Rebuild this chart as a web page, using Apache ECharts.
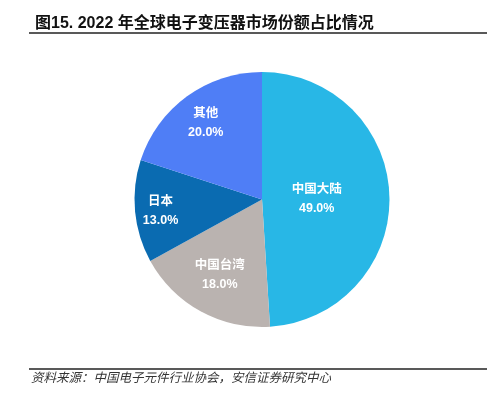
<!DOCTYPE html>
<html>
<head>
<meta charset="utf-8">
<script src="https://cdn.jsdelivr.net/npm/echarts@6/dist/echarts.min.js"></script>
<style>
html,body{margin:0;padding:0;background:#fff;}
#share_pie{width:501px;height:396px;}
</style>
</head>
<body>
<div id="share_pie"></div>
<script>
// 2022 年全球电子变压器市场份额
var regions = ['中国大陆', '中国台湾', '日本', '其他'];
var shares = [49.0, 18.0, 13.0, 20.0];

var colors = ['#28b7e6', '#bab3b0', '#0a6bb1', '#4f7ef6'];
// label shift from ECharts' inside position (Excel best fit look)
var labelShift = [[-12, 2], [-10, 17], [-35, 5], [-17, -22]];

var chart = echarts.init(document.getElementById('share_pie'));

var option = {
    animation: false,
    title: {
        text: '图15. 2022 年全球电子变压器市场份额占比情况',
        left: 30,
        top: 11,
        textStyle: {
            fontSize: 16,
            fontWeight: 'bold',
            color: '#111',
            fontFamily: 'Liberation Sans, Noto Sans CJK SC'
        }
    },
    graphic: [
        { // 标题下划线
            type: 'line',
            shape: { x1: 29, y1: 33, x2: 487, y2: 33 },
            style: { stroke: '#222', lineWidth: 1.5 }
        },
        { // 来源上方的线
            type: 'line',
            shape: { x1: 29, y1: 369, x2: 487, y2: 369 },
            style: { stroke: '#222', lineWidth: 1.5 }
        },
        {
            type: 'text',
            left: 31,
            top: 371,
            style: {
                text: '资料来源：中国电子元件行业协会，安信证券研究中心',
                font: 'italic 12.5px "Noto Sans CJK SC"',
                fill: '#333'
            }
        }
    ],
    series: [{
        type: 'pie',
        center: [262, 199.5],
        radius: 127.5,
        startAngle: 90,
        clockwise: true,
        avoidLabelOverlap: false,
        itemStyle: { borderWidth: 0 },
        label: {
            show: true,
            position: 'inside',
            color: '#fff',
            fontSize: 12.5,
            fontWeight: 'bold',
            lineHeight: 19,
            fontFamily: 'Liberation Sans, Noto Sans CJK SC',
            formatter: function (p) {
                return p.name + '\n' + p.value.toFixed(1) + '%';
            }
        },
        labelLine: { show: false },
        data: regions.map(function (name, i) {
            return {
                name: name,
                value: shares[i],
                itemStyle: { color: colors[i] },
                label: { offset: labelShift[i] }
            };
        })
    }]
};

chart.setOption(option);
</script>
</body>
</html>
